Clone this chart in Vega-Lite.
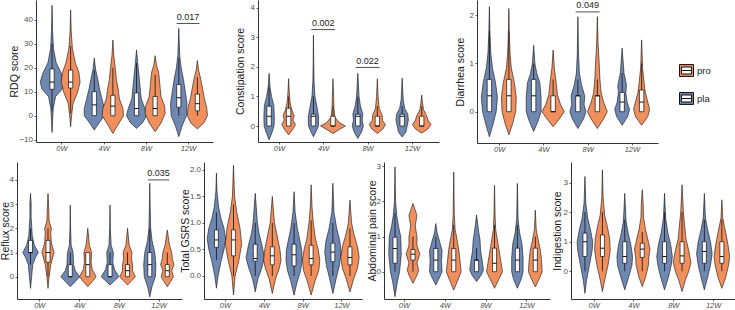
{
  "$schema": "https://vega.github.io/schema/vega-lite/v6.json",
  "width": 735,
  "height": 310,
  "padding": 0,
  "autosize": {"type": "none"},
  "background": "white",
  "config": {
    "view": {"stroke": null},
    "font": "Liberation Sans",
    "axis": {
      "grid": false,
      "domainColor": "#333333",
      "domainWidth": 1,
      "tickColor": "#333333",
      "tickSize": 2,
      "tickWidth": 0.8,
      "labelColor": "#4d4d4d",
      "labelFontSize": 8,
      "labelPadding": 1.5,
      "labelOverlap": false,
      "labelFlush": false,
      "titleFontSize": 10.5,
      "titleFontWeight": "normal",
      "titleColor": "#1a1a1a",
      "titleBaseline": "middle"
    },
    "axisX": {"labelFontStyle": "italic", "labelFontSize": 7.5, "labelPadding": 0.5}
  },
  "datasets": {
    "violin": [
      {"panel":"RDQ","week":"0W","group":"pla","score":-7,"density":0},
      {"panel":"RDQ","week":"0W","group":"pla","score":-2,"density":0.05},
      {"panel":"RDQ","week":"0W","group":"pla","score":3,"density":0.1},
      {"panel":"RDQ","week":"0W","group":"pla","score":8,"density":0.3},
      {"panel":"RDQ","week":"0W","group":"pla","score":11,"density":0.85},
      {"panel":"RDQ","week":"0W","group":"pla","score":14,"density":1.0},
      {"panel":"RDQ","week":"0W","group":"pla","score":18,"density":0.75},
      {"panel":"RDQ","week":"0W","group":"pla","score":22,"density":0.35},
      {"panel":"RDQ","week":"0W","group":"pla","score":28,"density":0.12},
      {"panel":"RDQ","week":"0W","group":"pla","score":35,"density":0.05},
      {"panel":"RDQ","week":"0W","group":"pla","score":46,"density":0},
      {"panel":"RDQ","week":"0W","group":"pro","score":-4.6,"density":0},
      {"panel":"RDQ","week":"0W","group":"pro","score":0,"density":0.08},
      {"panel":"RDQ","week":"0W","group":"pro","score":5,"density":0.2},
      {"panel":"RDQ","week":"0W","group":"pro","score":10,"density":0.6},
      {"panel":"RDQ","week":"0W","group":"pro","score":14,"density":0.8},
      {"panel":"RDQ","week":"0W","group":"pro","score":18,"density":0.7},
      {"panel":"RDQ","week":"0W","group":"pro","score":22,"density":0.4},
      {"panel":"RDQ","week":"0W","group":"pro","score":28,"density":0.15},
      {"panel":"RDQ","week":"0W","group":"pro","score":35,"density":0.05},
      {"panel":"RDQ","week":"0W","group":"pro","score":44,"density":0},
      {"panel":"RDQ","week":"4W","group":"pla","score":-6,"density":0},
      {"panel":"RDQ","week":"4W","group":"pla","score":-3,"density":0.4},
      {"panel":"RDQ","week":"4W","group":"pla","score":0,"density":0.85},
      {"panel":"RDQ","week":"4W","group":"pla","score":3,"density":0.85},
      {"panel":"RDQ","week":"4W","group":"pla","score":7,"density":0.65},
      {"panel":"RDQ","week":"4W","group":"pla","score":11,"density":0.45},
      {"panel":"RDQ","week":"4W","group":"pla","score":15,"density":0.3},
      {"panel":"RDQ","week":"4W","group":"pla","score":19,"density":0.12},
      {"panel":"RDQ","week":"4W","group":"pla","score":24,"density":0},
      {"panel":"RDQ","week":"4W","group":"pro","score":-7.4,"density":0},
      {"panel":"RDQ","week":"4W","group":"pro","score":-4,"density":0.4},
      {"panel":"RDQ","week":"4W","group":"pro","score":0,"density":0.9},
      {"panel":"RDQ","week":"4W","group":"pro","score":3,"density":0.85},
      {"panel":"RDQ","week":"4W","group":"pro","score":7,"density":0.55},
      {"panel":"RDQ","week":"4W","group":"pro","score":11,"density":0.45},
      {"panel":"RDQ","week":"4W","group":"pro","score":15,"density":0.3},
      {"panel":"RDQ","week":"4W","group":"pro","score":20,"density":0.2},
      {"panel":"RDQ","week":"4W","group":"pro","score":25,"density":0.08},
      {"panel":"RDQ","week":"4W","group":"pro","score":31.5,"density":0},
      {"panel":"RDQ","week":"8W","group":"pla","score":-5.3,"density":0},
      {"panel":"RDQ","week":"8W","group":"pla","score":-3,"density":0.5},
      {"panel":"RDQ","week":"8W","group":"pla","score":0,"density":0.85},
      {"panel":"RDQ","week":"8W","group":"pla","score":3,"density":0.7},
      {"panel":"RDQ","week":"8W","group":"pla","score":7,"density":0.4},
      {"panel":"RDQ","week":"8W","group":"pla","score":12,"density":0.3},
      {"panel":"RDQ","week":"8W","group":"pla","score":17,"density":0.2},
      {"panel":"RDQ","week":"8W","group":"pla","score":22,"density":0.1},
      {"panel":"RDQ","week":"8W","group":"pla","score":27.4,"density":0},
      {"panel":"RDQ","week":"8W","group":"pro","score":-6.7,"density":0},
      {"panel":"RDQ","week":"8W","group":"pro","score":-3,"density":0.5},
      {"panel":"RDQ","week":"8W","group":"pro","score":1,"density":0.85},
      {"panel":"RDQ","week":"8W","group":"pro","score":4,"density":0.8},
      {"panel":"RDQ","week":"8W","group":"pro","score":8,"density":0.5},
      {"panel":"RDQ","week":"8W","group":"pro","score":13,"density":0.4},
      {"panel":"RDQ","week":"8W","group":"pro","score":18,"density":0.3},
      {"panel":"RDQ","week":"8W","group":"pro","score":21,"density":0.12},
      {"panel":"RDQ","week":"8W","group":"pro","score":25,"density":0},
      {"panel":"RDQ","week":"12W","group":"pla","score":-8.75,"density":0},
      {"panel":"RDQ","week":"12W","group":"pla","score":-4,"density":0.3},
      {"panel":"RDQ","week":"12W","group":"pla","score":0,"density":0.65},
      {"panel":"RDQ","week":"12W","group":"pla","score":5,"density":0.7},
      {"panel":"RDQ","week":"12W","group":"pla","score":10,"density":0.55},
      {"panel":"RDQ","week":"12W","group":"pla","score":15,"density":0.4},
      {"panel":"RDQ","week":"12W","group":"pla","score":20,"density":0.2},
      {"panel":"RDQ","week":"12W","group":"pla","score":25,"density":0.08},
      {"panel":"RDQ","week":"12W","group":"pla","score":36.4,"density":0},
      {"panel":"RDQ","week":"12W","group":"pro","score":-5.5,"density":0},
      {"panel":"RDQ","week":"12W","group":"pro","score":-3,"density":0.55},
      {"panel":"RDQ","week":"12W","group":"pro","score":0,"density":0.85},
      {"panel":"RDQ","week":"12W","group":"pro","score":3,"density":0.8},
      {"panel":"RDQ","week":"12W","group":"pro","score":7,"density":0.6},
      {"panel":"RDQ","week":"12W","group":"pro","score":11,"density":0.45},
      {"panel":"RDQ","week":"12W","group":"pro","score":15,"density":0.3},
      {"panel":"RDQ","week":"12W","group":"pro","score":19,"density":0.1},
      {"panel":"RDQ","week":"12W","group":"pro","score":23,"density":0},

      {"panel":"Constipation","week":"0W","group":"pla","score":-0.47,"density":0},
      {"panel":"Constipation","week":"0W","group":"pla","score":-0.2,"density":0.25},
      {"panel":"Constipation","week":"0W","group":"pla","score":0,"density":0.4},
      {"panel":"Constipation","week":"0W","group":"pla","score":0.3,"density":0.42},
      {"panel":"Constipation","week":"0W","group":"pla","score":0.7,"density":0.38},
      {"panel":"Constipation","week":"0W","group":"pla","score":1.0,"density":0.2},
      {"panel":"Constipation","week":"0W","group":"pla","score":1.3,"density":0.08},
      {"panel":"Constipation","week":"0W","group":"pla","score":1.78,"density":0},
      {"panel":"Constipation","week":"0W","group":"pro","score":-0.3,"density":0},
      {"panel":"Constipation","week":"0W","group":"pro","score":-0.1,"density":0.35},
      {"panel":"Constipation","week":"0W","group":"pro","score":0.05,"density":0.55},
      {"panel":"Constipation","week":"0W","group":"pro","score":0.2,"density":0.35},
      {"panel":"Constipation","week":"0W","group":"pro","score":0.35,"density":0.45},
      {"panel":"Constipation","week":"0W","group":"pro","score":0.55,"density":0.25},
      {"panel":"Constipation","week":"0W","group":"pro","score":0.8,"density":0.12},
      {"panel":"Constipation","week":"0W","group":"pro","score":1.1,"density":0.06},
      {"panel":"Constipation","week":"0W","group":"pro","score":1.6,"density":0},
      {"panel":"Constipation","week":"4W","group":"pla","score":-0.36,"density":0},
      {"panel":"Constipation","week":"4W","group":"pla","score":-0.15,"density":0.25},
      {"panel":"Constipation","week":"4W","group":"pla","score":0,"density":0.4},
      {"panel":"Constipation","week":"4W","group":"pla","score":0.3,"density":0.42},
      {"panel":"Constipation","week":"4W","group":"pla","score":0.6,"density":0.3},
      {"panel":"Constipation","week":"4W","group":"pla","score":1.0,"density":0.12},
      {"panel":"Constipation","week":"4W","group":"pla","score":1.5,"density":0.05},
      {"panel":"Constipation","week":"4W","group":"pla","score":2.2,"density":0.02},
      {"panel":"Constipation","week":"4W","group":"pla","score":3.07,"density":0},
      {"panel":"Constipation","week":"4W","group":"pro","score":-0.25,"density":0},
      {"panel":"Constipation","week":"4W","group":"pro","score":-0.12,"density":0.5},
      {"panel":"Constipation","week":"4W","group":"pro","score":0,"density":1.0},
      {"panel":"Constipation","week":"4W","group":"pro","score":0.12,"density":0.5},
      {"panel":"Constipation","week":"4W","group":"pro","score":0.3,"density":0.15},
      {"panel":"Constipation","week":"4W","group":"pro","score":0.6,"density":0.08},
      {"panel":"Constipation","week":"4W","group":"pro","score":1.0,"density":0.05},
      {"panel":"Constipation","week":"4W","group":"pro","score":1.6,"density":0},
      {"panel":"Constipation","week":"8W","group":"pla","score":-0.42,"density":0},
      {"panel":"Constipation","week":"8W","group":"pla","score":-0.2,"density":0.3},
      {"panel":"Constipation","week":"8W","group":"pla","score":0,"density":0.45},
      {"panel":"Constipation","week":"8W","group":"pla","score":0.2,"density":0.35},
      {"panel":"Constipation","week":"8W","group":"pla","score":0.4,"density":0.4},
      {"panel":"Constipation","week":"8W","group":"pla","score":0.7,"density":0.2},
      {"panel":"Constipation","week":"8W","group":"pla","score":1.0,"density":0.1},
      {"panel":"Constipation","week":"8W","group":"pla","score":1.78,"density":0},
      {"panel":"Constipation","week":"8W","group":"pro","score":-0.25,"density":0},
      {"panel":"Constipation","week":"8W","group":"pro","score":-0.1,"density":0.45},
      {"panel":"Constipation","week":"8W","group":"pro","score":0.05,"density":0.65},
      {"panel":"Constipation","week":"8W","group":"pro","score":0.2,"density":0.4},
      {"panel":"Constipation","week":"8W","group":"pro","score":0.35,"density":0.4},
      {"panel":"Constipation","week":"8W","group":"pro","score":0.6,"density":0.15},
      {"panel":"Constipation","week":"8W","group":"pro","score":1.0,"density":0.06},
      {"panel":"Constipation","week":"8W","group":"pro","score":1.6,"density":0},
      {"panel":"Constipation","week":"12W","group":"pla","score":-0.37,"density":0},
      {"panel":"Constipation","week":"12W","group":"pla","score":-0.2,"density":0.3},
      {"panel":"Constipation","week":"12W","group":"pla","score":0,"density":0.4},
      {"panel":"Constipation","week":"12W","group":"pla","score":0.2,"density":0.5},
      {"panel":"Constipation","week":"12W","group":"pla","score":0.4,"density":0.45},
      {"panel":"Constipation","week":"12W","group":"pla","score":0.6,"density":0.2},
      {"panel":"Constipation","week":"12W","group":"pla","score":0.9,"density":0.08},
      {"panel":"Constipation","week":"12W","group":"pla","score":1.62,"density":0},
      {"panel":"Constipation","week":"12W","group":"pro","score":-0.24,"density":0},
      {"panel":"Constipation","week":"12W","group":"pro","score":-0.1,"density":0.5},
      {"panel":"Constipation","week":"12W","group":"pro","score":0.05,"density":0.75},
      {"panel":"Constipation","week":"12W","group":"pro","score":0.2,"density":0.5},
      {"panel":"Constipation","week":"12W","group":"pro","score":0.35,"density":0.4},
      {"panel":"Constipation","week":"12W","group":"pro","score":0.55,"density":0.15},
      {"panel":"Constipation","week":"12W","group":"pro","score":0.8,"density":0.06},
      {"panel":"Constipation","week":"12W","group":"pro","score":1.05,"density":0},

      {"panel":"Diarrhea","week":"0W","group":"pla","score":-0.52,"density":0},
      {"panel":"Diarrhea","week":"0W","group":"pla","score":-0.3,"density":0.25},
      {"panel":"Diarrhea","week":"0W","group":"pla","score":0,"density":0.55},
      {"panel":"Diarrhea","week":"0W","group":"pla","score":0.3,"density":0.65},
      {"panel":"Diarrhea","week":"0W","group":"pla","score":0.6,"density":0.5},
      {"panel":"Diarrhea","week":"0W","group":"pla","score":0.9,"density":0.25},
      {"panel":"Diarrhea","week":"0W","group":"pla","score":1.2,"density":0.12},
      {"panel":"Diarrhea","week":"0W","group":"pla","score":1.6,"density":0.05},
      {"panel":"Diarrhea","week":"0W","group":"pla","score":2.18,"density":0},
      {"panel":"Diarrhea","week":"0W","group":"pro","score":-0.48,"density":0},
      {"panel":"Diarrhea","week":"0W","group":"pro","score":-0.25,"density":0.3},
      {"panel":"Diarrhea","week":"0W","group":"pro","score":0,"density":0.55},
      {"panel":"Diarrhea","week":"0W","group":"pro","score":0.3,"density":0.6},
      {"panel":"Diarrhea","week":"0W","group":"pro","score":0.6,"density":0.45},
      {"panel":"Diarrhea","week":"0W","group":"pro","score":0.9,"density":0.2},
      {"panel":"Diarrhea","week":"0W","group":"pro","score":1.2,"density":0.1},
      {"panel":"Diarrhea","week":"0W","group":"pro","score":1.6,"density":0.04},
      {"panel":"Diarrhea","week":"0W","group":"pro","score":2.14,"density":0},
      {"panel":"Diarrhea","week":"4W","group":"pla","score":-0.41,"density":0},
      {"panel":"Diarrhea","week":"4W","group":"pla","score":-0.2,"density":0.35},
      {"panel":"Diarrhea","week":"4W","group":"pla","score":0,"density":0.6},
      {"panel":"Diarrhea","week":"4W","group":"pla","score":0.3,"density":0.6},
      {"panel":"Diarrhea","week":"4W","group":"pla","score":0.6,"density":0.5},
      {"panel":"Diarrhea","week":"4W","group":"pla","score":0.8,"density":0.25},
      {"panel":"Diarrhea","week":"4W","group":"pla","score":1.0,"density":0.1},
      {"panel":"Diarrhea","week":"4W","group":"pla","score":1.38,"density":0},
      {"panel":"Diarrhea","week":"4W","group":"pro","score":-0.31,"density":0},
      {"panel":"Diarrhea","week":"4W","group":"pro","score":-0.15,"density":0.5},
      {"panel":"Diarrhea","week":"4W","group":"pro","score":0,"density":0.9},
      {"panel":"Diarrhea","week":"4W","group":"pro","score":0.15,"density":0.6},
      {"panel":"Diarrhea","week":"4W","group":"pro","score":0.35,"density":0.35},
      {"panel":"Diarrhea","week":"4W","group":"pro","score":0.6,"density":0.25},
      {"panel":"Diarrhea","week":"4W","group":"pro","score":0.9,"density":0.1},
      {"panel":"Diarrhea","week":"4W","group":"pro","score":1.28,"density":0},
      {"panel":"Diarrhea","week":"8W","group":"pla","score":-0.35,"density":0},
      {"panel":"Diarrhea","week":"8W","group":"pla","score":-0.15,"density":0.45},
      {"panel":"Diarrhea","week":"8W","group":"pla","score":0,"density":0.65},
      {"panel":"Diarrhea","week":"8W","group":"pla","score":0.15,"density":0.5},
      {"panel":"Diarrhea","week":"8W","group":"pla","score":0.33,"density":0.55},
      {"panel":"Diarrhea","week":"8W","group":"pla","score":0.55,"density":0.3},
      {"panel":"Diarrhea","week":"8W","group":"pla","score":0.8,"density":0.12},
      {"panel":"Diarrhea","week":"8W","group":"pla","score":1.2,"density":0.05},
      {"panel":"Diarrhea","week":"8W","group":"pla","score":1.97,"density":0},
      {"panel":"Diarrhea","week":"8W","group":"pro","score":-0.35,"density":0},
      {"panel":"Diarrhea","week":"8W","group":"pro","score":-0.15,"density":0.5},
      {"panel":"Diarrhea","week":"8W","group":"pro","score":0,"density":0.8},
      {"panel":"Diarrhea","week":"8W","group":"pro","score":0.2,"density":0.5},
      {"panel":"Diarrhea","week":"8W","group":"pro","score":0.4,"density":0.3},
      {"panel":"Diarrhea","week":"8W","group":"pro","score":0.7,"density":0.2},
      {"panel":"Diarrhea","week":"8W","group":"pro","score":1.0,"density":0.15},
      {"panel":"Diarrhea","week":"8W","group":"pro","score":1.4,"density":0.06},
      {"panel":"Diarrhea","week":"8W","group":"pro","score":1.97,"density":0},
      {"panel":"Diarrhea","week":"12W","group":"pla","score":-0.28,"density":0},
      {"panel":"Diarrhea","week":"12W","group":"pla","score":-0.1,"density":0.45},
      {"panel":"Diarrhea","week":"12W","group":"pla","score":0.05,"density":0.6},
      {"panel":"Diarrhea","week":"12W","group":"pla","score":0.2,"density":0.4},
      {"panel":"Diarrhea","week":"12W","group":"pla","score":0.4,"density":0.3},
      {"panel":"Diarrhea","week":"12W","group":"pla","score":0.55,"density":0.35},
      {"panel":"Diarrhea","week":"12W","group":"pla","score":0.8,"density":0.15},
      {"panel":"Diarrhea","week":"12W","group":"pla","score":1.32,"density":0},
      {"panel":"Diarrhea","week":"12W","group":"pro","score":-0.28,"density":0},
      {"panel":"Diarrhea","week":"12W","group":"pro","score":-0.1,"density":0.5},
      {"panel":"Diarrhea","week":"12W","group":"pro","score":0.05,"density":0.65},
      {"panel":"Diarrhea","week":"12W","group":"pro","score":0.2,"density":0.5},
      {"panel":"Diarrhea","week":"12W","group":"pro","score":0.4,"density":0.3},
      {"panel":"Diarrhea","week":"12W","group":"pro","score":0.6,"density":0.2},
      {"panel":"Diarrhea","week":"12W","group":"pro","score":0.9,"density":0.08},
      {"panel":"Diarrhea","week":"12W","group":"pro","score":1.49,"density":0},

      {"panel":"Reflux","week":"0W","group":"pla","score":-0.48,"density":0},
      {"panel":"Reflux","week":"0W","group":"pla","score":0,"density":0.1},
      {"panel":"Reflux","week":"0W","group":"pla","score":0.5,"density":0.2},
      {"panel":"Reflux","week":"0W","group":"pla","score":0.8,"density":0.45},
      {"panel":"Reflux","week":"0W","group":"pla","score":1.0,"density":0.7},
      {"panel":"Reflux","week":"0W","group":"pla","score":1.3,"density":0.35},
      {"panel":"Reflux","week":"0W","group":"pla","score":1.7,"density":0.15},
      {"panel":"Reflux","week":"0W","group":"pla","score":2.0,"density":0.12},
      {"panel":"Reflux","week":"0W","group":"pla","score":2.5,"density":0.05},
      {"panel":"Reflux","week":"0W","group":"pla","score":3.0,"density":0.06},
      {"panel":"Reflux","week":"0W","group":"pla","score":3.44,"density":0},
      {"panel":"Reflux","week":"0W","group":"pro","score":-0.48,"density":0},
      {"panel":"Reflux","week":"0W","group":"pro","score":0,"density":0.1},
      {"panel":"Reflux","week":"0W","group":"pro","score":0.5,"density":0.25},
      {"panel":"Reflux","week":"0W","group":"pro","score":1.0,"density":0.55},
      {"panel":"Reflux","week":"0W","group":"pro","score":1.4,"density":0.3},
      {"panel":"Reflux","week":"0W","group":"pro","score":1.8,"density":0.25},
      {"panel":"Reflux","week":"0W","group":"pro","score":2.0,"density":0.3},
      {"panel":"Reflux","week":"0W","group":"pro","score":2.3,"density":0.1},
      {"panel":"Reflux","week":"0W","group":"pro","score":3.0,"density":0.05},
      {"panel":"Reflux","week":"0W","group":"pro","score":3.44,"density":0},
      {"panel":"Reflux","week":"4W","group":"pla","score":-0.41,"density":0},
      {"panel":"Reflux","week":"4W","group":"pla","score":-0.2,"density":0.45},
      {"panel":"Reflux","week":"4W","group":"pla","score":0,"density":0.85},
      {"panel":"Reflux","week":"4W","group":"pla","score":0.25,"density":0.45},
      {"panel":"Reflux","week":"4W","group":"pla","score":0.5,"density":0.3},
      {"panel":"Reflux","week":"4W","group":"pla","score":1.0,"density":0.25},
      {"panel":"Reflux","week":"4W","group":"pla","score":1.3,"density":0.08},
      {"panel":"Reflux","week":"4W","group":"pla","score":2.0,"density":0.03},
      {"panel":"Reflux","week":"4W","group":"pla","score":2.96,"density":0},
      {"panel":"Reflux","week":"4W","group":"pro","score":-0.41,"density":0},
      {"panel":"Reflux","week":"4W","group":"pro","score":-0.2,"density":0.4},
      {"panel":"Reflux","week":"4W","group":"pro","score":0,"density":0.75},
      {"panel":"Reflux","week":"4W","group":"pro","score":0.3,"density":0.4},
      {"panel":"Reflux","week":"4W","group":"pro","score":0.6,"density":0.3},
      {"panel":"Reflux","week":"4W","group":"pro","score":1.0,"density":0.35},
      {"panel":"Reflux","week":"4W","group":"pro","score":1.3,"density":0.15},
      {"panel":"Reflux","week":"4W","group":"pro","score":2.0,"density":0},
      {"panel":"Reflux","week":"8W","group":"pla","score":-0.34,"density":0},
      {"panel":"Reflux","week":"8W","group":"pla","score":-0.15,"density":0.45},
      {"panel":"Reflux","week":"8W","group":"pla","score":0,"density":0.8},
      {"panel":"Reflux","week":"8W","group":"pla","score":0.3,"density":0.4},
      {"panel":"Reflux","week":"8W","group":"pla","score":0.6,"density":0.25},
      {"panel":"Reflux","week":"8W","group":"pla","score":1.0,"density":0.3},
      {"panel":"Reflux","week":"8W","group":"pla","score":1.3,"density":0.1},
      {"panel":"Reflux","week":"8W","group":"pla","score":2.0,"density":0.03},
      {"panel":"Reflux","week":"8W","group":"pla","score":2.96,"density":0},
      {"panel":"Reflux","week":"8W","group":"pro","score":-0.34,"density":0},
      {"panel":"Reflux","week":"8W","group":"pro","score":-0.15,"density":0.4},
      {"panel":"Reflux","week":"8W","group":"pro","score":0,"density":0.7},
      {"panel":"Reflux","week":"8W","group":"pro","score":0.25,"density":0.45},
      {"panel":"Reflux","week":"8W","group":"pro","score":0.5,"density":0.45},
      {"panel":"Reflux","week":"8W","group":"pro","score":0.75,"density":0.35},
      {"panel":"Reflux","week":"8W","group":"pro","score":1.0,"density":0.4},
      {"panel":"Reflux","week":"8W","group":"pro","score":1.3,"density":0.15},
      {"panel":"Reflux","week":"8W","group":"pro","score":2.0,"density":0},
      {"panel":"Reflux","week":"12W","group":"pla","score":-0.83,"density":0},
      {"panel":"Reflux","week":"12W","group":"pla","score":-0.4,"density":0.2},
      {"panel":"Reflux","week":"12W","group":"pla","score":0,"density":0.5},
      {"panel":"Reflux","week":"12W","group":"pla","score":0.5,"density":0.55},
      {"panel":"Reflux","week":"12W","group":"pla","score":1.0,"density":0.45},
      {"panel":"Reflux","week":"12W","group":"pla","score":1.5,"density":0.2},
      {"panel":"Reflux","week":"12W","group":"pla","score":2.0,"density":0.08},
      {"panel":"Reflux","week":"12W","group":"pla","score":3.0,"density":0.03},
      {"panel":"Reflux","week":"12W","group":"pla","score":3.86,"density":0},
      {"panel":"Reflux","week":"12W","group":"pro","score":-0.41,"density":0},
      {"panel":"Reflux","week":"12W","group":"pro","score":-0.2,"density":0.3},
      {"panel":"Reflux","week":"12W","group":"pro","score":0,"density":0.55},
      {"panel":"Reflux","week":"12W","group":"pro","score":0.25,"density":0.4},
      {"panel":"Reflux","week":"12W","group":"pro","score":0.5,"density":0.6},
      {"panel":"Reflux","week":"12W","group":"pro","score":0.75,"density":0.45},
      {"panel":"Reflux","week":"12W","group":"pro","score":1.0,"density":0.4},
      {"panel":"Reflux","week":"12W","group":"pro","score":1.3,"density":0.2},
      {"panel":"Reflux","week":"12W","group":"pro","score":1.93,"density":0},

      {"panel":"GSRS","week":"0W","group":"pla","score":-0.23,"density":0},
      {"panel":"GSRS","week":"0W","group":"pla","score":0,"density":0.15},
      {"panel":"GSRS","week":"0W","group":"pla","score":0.3,"density":0.45},
      {"panel":"GSRS","week":"0W","group":"pla","score":0.5,"density":0.7},
      {"panel":"GSRS","week":"0W","group":"pla","score":0.7,"density":0.85},
      {"panel":"GSRS","week":"0W","group":"pla","score":0.9,"density":0.7},
      {"panel":"GSRS","week":"0W","group":"pla","score":1.1,"density":0.4},
      {"panel":"GSRS","week":"0W","group":"pla","score":1.3,"density":0.2},
      {"panel":"GSRS","week":"0W","group":"pla","score":1.6,"density":0.05},
      {"panel":"GSRS","week":"0W","group":"pla","score":1.94,"density":0},
      {"panel":"GSRS","week":"0W","group":"pro","score":-0.36,"density":0},
      {"panel":"GSRS","week":"0W","group":"pro","score":0,"density":0.15},
      {"panel":"GSRS","week":"0W","group":"pro","score":0.3,"density":0.5},
      {"panel":"GSRS","week":"0W","group":"pro","score":0.6,"density":0.75},
      {"panel":"GSRS","week":"0W","group":"pro","score":0.9,"density":0.6},
      {"panel":"GSRS","week":"0W","group":"pro","score":1.2,"density":0.3},
      {"panel":"GSRS","week":"0W","group":"pro","score":1.5,"density":0.1},
      {"panel":"GSRS","week":"0W","group":"pro","score":2.09,"density":0},
      {"panel":"GSRS","week":"4W","group":"pla","score":-0.3,"density":0},
      {"panel":"GSRS","week":"4W","group":"pla","score":-0.05,"density":0.25},
      {"panel":"GSRS","week":"4W","group":"pla","score":0.15,"density":0.6},
      {"panel":"GSRS","week":"4W","group":"pla","score":0.35,"density":0.85},
      {"panel":"GSRS","week":"4W","group":"pla","score":0.6,"density":0.6},
      {"panel":"GSRS","week":"4W","group":"pla","score":0.8,"density":0.35},
      {"panel":"GSRS","week":"4W","group":"pla","score":1.0,"density":0.2},
      {"panel":"GSRS","week":"4W","group":"pla","score":1.56,"density":0},
      {"panel":"GSRS","week":"4W","group":"pro","score":-0.33,"density":0},
      {"panel":"GSRS","week":"4W","group":"pro","score":-0.05,"density":0.3},
      {"panel":"GSRS","week":"4W","group":"pro","score":0.15,"density":0.65},
      {"panel":"GSRS","week":"4W","group":"pro","score":0.3,"density":0.8},
      {"panel":"GSRS","week":"4W","group":"pro","score":0.5,"density":0.7},
      {"panel":"GSRS","week":"4W","group":"pro","score":0.8,"density":0.4},
      {"panel":"GSRS","week":"4W","group":"pro","score":1.0,"density":0.2},
      {"panel":"GSRS","week":"4W","group":"pro","score":1.5,"density":0},
      {"panel":"GSRS","week":"8W","group":"pla","score":-0.36,"density":0},
      {"panel":"GSRS","week":"8W","group":"pla","score":-0.1,"density":0.3},
      {"panel":"GSRS","week":"8W","group":"pla","score":0.1,"density":0.6},
      {"panel":"GSRS","week":"8W","group":"pla","score":0.3,"density":0.75},
      {"panel":"GSRS","week":"8W","group":"pla","score":0.5,"density":0.7},
      {"panel":"GSRS","week":"8W","group":"pla","score":0.7,"density":0.5},
      {"panel":"GSRS","week":"8W","group":"pla","score":0.9,"density":0.3},
      {"panel":"GSRS","week":"8W","group":"pla","score":1.2,"density":0.1},
      {"panel":"GSRS","week":"8W","group":"pla","score":1.59,"density":0},
      {"panel":"GSRS","week":"8W","group":"pro","score":-0.36,"density":0},
      {"panel":"GSRS","week":"8W","group":"pro","score":-0.1,"density":0.35},
      {"panel":"GSRS","week":"8W","group":"pro","score":0.1,"density":0.7},
      {"panel":"GSRS","week":"8W","group":"pro","score":0.3,"density":0.8},
      {"panel":"GSRS","week":"8W","group":"pro","score":0.5,"density":0.65},
      {"panel":"GSRS","week":"8W","group":"pro","score":0.7,"density":0.4},
      {"panel":"GSRS","week":"8W","group":"pro","score":1.0,"density":0.2},
      {"panel":"GSRS","week":"8W","group":"pro","score":1.3,"density":0.08},
      {"panel":"GSRS","week":"8W","group":"pro","score":1.72,"density":0},
      {"panel":"GSRS","week":"12W","group":"pla","score":-0.33,"density":0},
      {"panel":"GSRS","week":"12W","group":"pla","score":-0.05,"density":0.3},
      {"panel":"GSRS","week":"12W","group":"pla","score":0.2,"density":0.6},
      {"panel":"GSRS","week":"12W","group":"pla","score":0.45,"density":0.75},
      {"panel":"GSRS","week":"12W","group":"pla","score":0.65,"density":0.65},
      {"panel":"GSRS","week":"12W","group":"pla","score":0.9,"density":0.35},
      {"panel":"GSRS","week":"12W","group":"pla","score":1.2,"density":0.1},
      {"panel":"GSRS","week":"12W","group":"pla","score":1.75,"density":0},
      {"panel":"GSRS","week":"12W","group":"pro","score":-0.3,"density":0},
      {"panel":"GSRS","week":"12W","group":"pro","score":-0.05,"density":0.35},
      {"panel":"GSRS","week":"12W","group":"pro","score":0.15,"density":0.7},
      {"panel":"GSRS","week":"12W","group":"pro","score":0.35,"density":0.85},
      {"panel":"GSRS","week":"12W","group":"pro","score":0.55,"density":0.7},
      {"panel":"GSRS","week":"12W","group":"pro","score":0.8,"density":0.35},
      {"panel":"GSRS","week":"12W","group":"pro","score":1.0,"density":0.15},
      {"panel":"GSRS","week":"12W","group":"pro","score":1.43,"density":0},

      {"panel":"Abdominal","week":"0W","group":"pla","score":-0.71,"density":0},
      {"panel":"Abdominal","week":"0W","group":"pla","score":-0.3,"density":0.2},
      {"panel":"Abdominal","week":"0W","group":"pla","score":0,"density":0.4},
      {"panel":"Abdominal","week":"0W","group":"pla","score":0.5,"density":0.55},
      {"panel":"Abdominal","week":"0W","group":"pla","score":1.0,"density":0.5},
      {"panel":"Abdominal","week":"0W","group":"pla","score":1.3,"density":0.3},
      {"panel":"Abdominal","week":"0W","group":"pla","score":1.6,"density":0.15},
      {"panel":"Abdominal","week":"0W","group":"pla","score":2.0,"density":0.05},
      {"panel":"Abdominal","week":"0W","group":"pla","score":2.98,"density":0},
      {"panel":"Abdominal","week":"0W","group":"pro","score":-0.33,"density":0},
      {"panel":"Abdominal","week":"0W","group":"pro","score":-0.1,"density":0.35},
      {"panel":"Abdominal","week":"0W","group":"pro","score":0.05,"density":0.5},
      {"panel":"Abdominal","week":"0W","group":"pro","score":0.25,"density":0.35},
      {"panel":"Abdominal","week":"0W","group":"pro","score":0.5,"density":0.6},
      {"panel":"Abdominal","week":"0W","group":"pro","score":0.75,"density":0.35},
      {"panel":"Abdominal","week":"0W","group":"pro","score":1.0,"density":0.35},
      {"panel":"Abdominal","week":"0W","group":"pro","score":1.3,"density":0.2},
      {"panel":"Abdominal","week":"0W","group":"pro","score":1.6,"density":0.35},
      {"panel":"Abdominal","week":"0W","group":"pro","score":1.8,"density":0.15},
      {"panel":"Abdominal","week":"0W","group":"pro","score":1.94,"density":0},
      {"panel":"Abdominal","week":"4W","group":"pla","score":-0.38,"density":0},
      {"panel":"Abdominal","week":"4W","group":"pla","score":-0.15,"density":0.35},
      {"panel":"Abdominal","week":"4W","group":"pla","score":0,"density":0.55},
      {"panel":"Abdominal","week":"4W","group":"pla","score":0.3,"density":0.5},
      {"panel":"Abdominal","week":"4W","group":"pla","score":0.6,"density":0.55},
      {"panel":"Abdominal","week":"4W","group":"pla","score":0.9,"density":0.3},
      {"panel":"Abdominal","week":"4W","group":"pla","score":1.1,"density":0.12},
      {"panel":"Abdominal","week":"4W","group":"pla","score":1.37,"density":0},
      {"panel":"Abdominal","week":"4W","group":"pro","score":-0.52,"density":0},
      {"panel":"Abdominal","week":"4W","group":"pro","score":-0.25,"density":0.35},
      {"panel":"Abdominal","week":"4W","group":"pro","score":0,"density":0.65},
      {"panel":"Abdominal","week":"4W","group":"pro","score":0.3,"density":0.55},
      {"panel":"Abdominal","week":"4W","group":"pro","score":0.6,"density":0.45},
      {"panel":"Abdominal","week":"4W","group":"pro","score":0.9,"density":0.3},
      {"panel":"Abdominal","week":"4W","group":"pro","score":1.2,"density":0.12},
      {"panel":"Abdominal","week":"4W","group":"pro","score":1.6,"density":0.05},
      {"panel":"Abdominal","week":"4W","group":"pro","score":2.84,"density":0},
      {"panel":"Abdominal","week":"8W","group":"pla","score":-0.28,"density":0},
      {"panel":"Abdominal","week":"8W","group":"pla","score":-0.1,"density":0.4},
      {"panel":"Abdominal","week":"8W","group":"pla","score":0.05,"density":0.6},
      {"panel":"Abdominal","week":"8W","group":"pla","score":0.3,"density":0.5},
      {"panel":"Abdominal","week":"8W","group":"pla","score":0.6,"density":0.35},
      {"panel":"Abdominal","week":"8W","group":"pla","score":0.9,"density":0.3},
      {"panel":"Abdominal","week":"8W","group":"pla","score":1.1,"density":0.2},
      {"panel":"Abdominal","week":"8W","group":"pla","score":1.61,"density":0},
      {"panel":"Abdominal","week":"8W","group":"pro","score":-0.47,"density":0},
      {"panel":"Abdominal","week":"8W","group":"pro","score":-0.2,"density":0.4},
      {"panel":"Abdominal","week":"8W","group":"pro","score":0,"density":0.7},
      {"panel":"Abdominal","week":"8W","group":"pro","score":0.3,"density":0.55},
      {"panel":"Abdominal","week":"8W","group":"pro","score":0.6,"density":0.4},
      {"panel":"Abdominal","week":"8W","group":"pro","score":0.9,"density":0.25},
      {"panel":"Abdominal","week":"8W","group":"pro","score":1.2,"density":0.1},
      {"panel":"Abdominal","week":"8W","group":"pro","score":1.6,"density":0.05},
      {"panel":"Abdominal","week":"8W","group":"pro","score":2.46,"density":0},
      {"panel":"Abdominal","week":"12W","group":"pla","score":-0.47,"density":0},
      {"panel":"Abdominal","week":"12W","group":"pla","score":-0.2,"density":0.35},
      {"panel":"Abdominal","week":"12W","group":"pla","score":0,"density":0.5},
      {"panel":"Abdominal","week":"12W","group":"pla","score":0.4,"density":0.5},
      {"panel":"Abdominal","week":"12W","group":"pla","score":0.8,"density":0.4},
      {"panel":"Abdominal","week":"12W","group":"pla","score":1.1,"density":0.2},
      {"panel":"Abdominal","week":"12W","group":"pla","score":1.5,"density":0.06},
      {"panel":"Abdominal","week":"12W","group":"pla","score":2.51,"density":0},
      {"panel":"Abdominal","week":"12W","group":"pro","score":-0.43,"density":0},
      {"panel":"Abdominal","week":"12W","group":"pro","score":-0.2,"density":0.35},
      {"panel":"Abdominal","week":"12W","group":"pro","score":0,"density":0.6},
      {"panel":"Abdominal","week":"12W","group":"pro","score":0.3,"density":0.55},
      {"panel":"Abdominal","week":"12W","group":"pro","score":0.6,"density":0.45},
      {"panel":"Abdominal","week":"12W","group":"pro","score":0.9,"density":0.25},
      {"panel":"Abdominal","week":"12W","group":"pro","score":1.2,"density":0.08},
      {"panel":"Abdominal","week":"12W","group":"pro","score":1.75,"density":0},

      {"panel":"Indigestion","week":"0W","group":"pla","score":-0.75,"density":0},
      {"panel":"Indigestion","week":"0W","group":"pla","score":-0.3,"density":0.15},
      {"panel":"Indigestion","week":"0W","group":"pla","score":0.2,"density":0.4},
      {"panel":"Indigestion","week":"0W","group":"pla","score":0.7,"density":0.65},
      {"panel":"Indigestion","week":"0W","group":"pla","score":1.0,"density":0.7},
      {"panel":"Indigestion","week":"0W","group":"pla","score":1.4,"density":0.5},
      {"panel":"Indigestion","week":"0W","group":"pla","score":1.8,"density":0.25},
      {"panel":"Indigestion","week":"0W","group":"pla","score":2.3,"density":0.08},
      {"panel":"Indigestion","week":"0W","group":"pla","score":3.21,"density":0},
      {"panel":"Indigestion","week":"0W","group":"pro","score":-0.69,"density":0},
      {"panel":"Indigestion","week":"0W","group":"pro","score":-0.3,"density":0.2},
      {"panel":"Indigestion","week":"0W","group":"pro","score":0.2,"density":0.5},
      {"panel":"Indigestion","week":"0W","group":"pro","score":0.7,"density":0.7},
      {"panel":"Indigestion","week":"0W","group":"pro","score":1.1,"density":0.65},
      {"panel":"Indigestion","week":"0W","group":"pro","score":1.5,"density":0.45},
      {"panel":"Indigestion","week":"0W","group":"pro","score":1.9,"density":0.2},
      {"panel":"Indigestion","week":"0W","group":"pro","score":2.5,"density":0.06},
      {"panel":"Indigestion","week":"0W","group":"pro","score":3.43,"density":0},
      {"panel":"Indigestion","week":"4W","group":"pla","score":-0.63,"density":0},
      {"panel":"Indigestion","week":"4W","group":"pla","score":-0.2,"density":0.35},
      {"panel":"Indigestion","week":"4W","group":"pla","score":0.2,"density":0.65},
      {"panel":"Indigestion","week":"4W","group":"pla","score":0.5,"density":0.7},
      {"panel":"Indigestion","week":"4W","group":"pla","score":0.9,"density":0.55},
      {"panel":"Indigestion","week":"4W","group":"pla","score":1.3,"density":0.3},
      {"panel":"Indigestion","week":"4W","group":"pla","score":1.7,"density":0.12},
      {"panel":"Indigestion","week":"4W","group":"pla","score":2.64,"density":0},
      {"panel":"Indigestion","week":"4W","group":"pro","score":-0.52,"density":0},
      {"panel":"Indigestion","week":"4W","group":"pro","score":-0.2,"density":0.3},
      {"panel":"Indigestion","week":"4W","group":"pro","score":0.2,"density":0.55},
      {"panel":"Indigestion","week":"4W","group":"pro","score":0.5,"density":0.6},
      {"panel":"Indigestion","week":"4W","group":"pro","score":0.75,"density":0.7},
      {"panel":"Indigestion","week":"4W","group":"pro","score":1.0,"density":0.55},
      {"panel":"Indigestion","week":"4W","group":"pro","score":1.4,"density":0.3},
      {"panel":"Indigestion","week":"4W","group":"pro","score":1.8,"density":0.12},
      {"panel":"Indigestion","week":"4W","group":"pro","score":2.3,"density":0.08},
      {"panel":"Indigestion","week":"4W","group":"pro","score":2.76,"density":0},
      {"panel":"Indigestion","week":"8W","group":"pla","score":-0.63,"density":0},
      {"panel":"Indigestion","week":"8W","group":"pla","score":-0.2,"density":0.35},
      {"panel":"Indigestion","week":"8W","group":"pla","score":0.2,"density":0.6},
      {"panel":"Indigestion","week":"8W","group":"pla","score":0.5,"density":0.7},
      {"panel":"Indigestion","week":"8W","group":"pla","score":0.9,"density":0.55},
      {"panel":"Indigestion","week":"8W","group":"pla","score":1.3,"density":0.3},
      {"panel":"Indigestion","week":"8W","group":"pla","score":1.8,"density":0.1},
      {"panel":"Indigestion","week":"8W","group":"pla","score":2.64,"density":0},
      {"panel":"Indigestion","week":"8W","group":"pro","score":-0.69,"density":0},
      {"panel":"Indigestion","week":"8W","group":"pro","score":-0.3,"density":0.3},
      {"panel":"Indigestion","week":"8W","group":"pro","score":0,"density":0.6},
      {"panel":"Indigestion","week":"8W","group":"pro","score":0.3,"density":0.8},
      {"panel":"Indigestion","week":"8W","group":"pro","score":0.7,"density":0.6},
      {"panel":"Indigestion","week":"8W","group":"pro","score":1.1,"density":0.35},
      {"panel":"Indigestion","week":"8W","group":"pro","score":1.5,"density":0.25},
      {"panel":"Indigestion","week":"8W","group":"pro","score":2.0,"density":0.12},
      {"panel":"Indigestion","week":"8W","group":"pro","score":2.93,"density":0},
      {"panel":"Indigestion","week":"12W","group":"pla","score":-0.63,"density":0},
      {"panel":"Indigestion","week":"12W","group":"pla","score":-0.2,"density":0.3},
      {"panel":"Indigestion","week":"12W","group":"pla","score":0.2,"density":0.55},
      {"panel":"Indigestion","week":"12W","group":"pla","score":0.6,"density":0.7},
      {"panel":"Indigestion","week":"12W","group":"pla","score":1.0,"density":0.55},
      {"panel":"Indigestion","week":"12W","group":"pla","score":1.4,"density":0.3},
      {"panel":"Indigestion","week":"12W","group":"pla","score":1.8,"density":0.1},
      {"panel":"Indigestion","week":"12W","group":"pla","score":2.64,"density":0},
      {"panel":"Indigestion","week":"12W","group":"pro","score":-0.58,"density":0},
      {"panel":"Indigestion","week":"12W","group":"pro","score":-0.2,"density":0.35},
      {"panel":"Indigestion","week":"12W","group":"pro","score":0.2,"density":0.6},
      {"panel":"Indigestion","week":"12W","group":"pro","score":0.5,"density":0.7},
      {"panel":"Indigestion","week":"12W","group":"pro","score":0.9,"density":0.55},
      {"panel":"Indigestion","week":"12W","group":"pro","score":1.3,"density":0.35},
      {"panel":"Indigestion","week":"12W","group":"pro","score":1.8,"density":0.08},
      {"panel":"Indigestion","week":"12W","group":"pro","score":2.42,"density":0}
    ],
    "box": [
      {"panel":"RDQ","week":"0W","group":"pla","lo":2,"q1":11,"median":14,"q3":19.5,"hi":30},
      {"panel":"RDQ","week":"0W","group":"pro","lo":1,"q1":11.5,"median":14,"q3":19,"hi":29},
      {"panel":"RDQ","week":"4W","group":"pla","lo":0,"q1":0,"median":4.5,"q3":10,"hi":19},
      {"panel":"RDQ","week":"4W","group":"pro","lo":0,"q1":0,"median":4,"q3":8.5,"hi":20},
      {"panel":"RDQ","week":"8W","group":"pla","lo":0,"q1":0,"median":3,"q3":9.5,"hi":22},
      {"panel":"RDQ","week":"8W","group":"pro","lo":0,"q1":0,"median":3,"q3":8,"hi":17},
      {"panel":"RDQ","week":"12W","group":"pla","lo":0,"q1":3.5,"median":7.5,"q3":13,"hi":24},
      {"panel":"RDQ","week":"12W","group":"pro","lo":0,"q1":2,"median":5,"q3":9,"hi":16},
      {"panel":"Constipation","week":"0W","group":"pla","lo":0,"q1":0,"median":0.33,"q3":0.67,"hi":1.33},
      {"panel":"Constipation","week":"0W","group":"pro","lo":0,"q1":0,"median":0.33,"q3":0.6,"hi":1.0},
      {"panel":"Constipation","week":"4W","group":"pla","lo":0,"q1":0,"median":0.33,"q3":0.4,"hi":1.0},
      {"panel":"Constipation","week":"4W","group":"pro","lo":0,"q1":0,"median":0,"q3":0.33,"hi":0.67},
      {"panel":"Constipation","week":"8W","group":"pla","lo":0,"q1":0,"median":0.33,"q3":0.4,"hi":1.0},
      {"panel":"Constipation","week":"8W","group":"pro","lo":0,"q1":0,"median":0,"q3":0.33,"hi":0.67},
      {"panel":"Constipation","week":"12W","group":"pla","lo":0,"q1":0,"median":0.33,"q3":0.4,"hi":0.67},
      {"panel":"Constipation","week":"12W","group":"pro","lo":0,"q1":0,"median":0,"q3":0.33,"hi":0.67},
      {"panel":"Diarrhea","week":"0W","group":"pla","lo":0,"q1":0,"median":0.33,"q3":0.67,"hi":1.67},
      {"panel":"Diarrhea","week":"0W","group":"pro","lo":0,"q1":0,"median":0.33,"q3":0.67,"hi":1.67},
      {"panel":"Diarrhea","week":"4W","group":"pla","lo":0,"q1":0,"median":0.33,"q3":0.67,"hi":1.0},
      {"panel":"Diarrhea","week":"4W","group":"pro","lo":0,"q1":0,"median":0,"q3":0.33,"hi":0.67},
      {"panel":"Diarrhea","week":"8W","group":"pla","lo":0,"q1":0,"median":0.33,"q3":0.33,"hi":0.67},
      {"panel":"Diarrhea","week":"8W","group":"pro","lo":0,"q1":0,"median":0.33,"q3":0.33,"hi":0.67},
      {"panel":"Diarrhea","week":"12W","group":"pla","lo":0,"q1":0,"median":0.2,"q3":0.4,"hi":0.8},
      {"panel":"Diarrhea","week":"12W","group":"pro","lo":0,"q1":0,"median":0.2,"q3":0.45,"hi":1.0},
      {"panel":"Reflux","week":"0W","group":"pla","lo":0.5,"q1":1.0,"median":1.0,"q3":1.5,"hi":2.0},
      {"panel":"Reflux","week":"0W","group":"pro","lo":0,"q1":0.6,"median":1.0,"q3":1.5,"hi":2.0},
      {"panel":"Reflux","week":"4W","group":"pla","lo":0,"q1":0,"median":0,"q3":0.5,"hi":1.0},
      {"panel":"Reflux","week":"4W","group":"pro","lo":0,"q1":0,"median":0.5,"q3":1.0,"hi":1.0},
      {"panel":"Reflux","week":"8W","group":"pla","lo":0,"q1":0,"median":0,"q3":0.5,"hi":1.0},
      {"panel":"Reflux","week":"8W","group":"pro","lo":0,"q1":0,"median":0.25,"q3":0.5,"hi":1.0},
      {"panel":"Reflux","week":"12W","group":"pla","lo":0,"q1":0,"median":0.5,"q3":1.0,"hi":2.0},
      {"panel":"Reflux","week":"12W","group":"pro","lo":0,"q1":0,"median":0.25,"q3":0.5,"hi":1.0},
      {"panel":"GSRS","week":"0W","group":"pla","lo":0.3,"q1":0.54,"median":0.68,"q3":0.87,"hi":1.2},
      {"panel":"GSRS","week":"0W","group":"pro","lo":0,"q1":0.38,"median":0.68,"q3":0.87,"hi":1.35},
      {"panel":"GSRS","week":"4W","group":"pla","lo":0,"q1":0.28,"median":0.33,"q3":0.6,"hi":1.0},
      {"panel":"GSRS","week":"4W","group":"pro","lo":0,"q1":0.21,"median":0.38,"q3":0.55,"hi":1.0},
      {"panel":"GSRS","week":"8W","group":"pla","lo":0,"q1":0.19,"median":0.4,"q3":0.6,"hi":1.0},
      {"panel":"GSRS","week":"8W","group":"pro","lo":0,"q1":0.21,"median":0.33,"q3":0.58,"hi":1.05},
      {"panel":"GSRS","week":"12W","group":"pla","lo":0,"q1":0.27,"median":0.45,"q3":0.62,"hi":1.0},
      {"panel":"GSRS","week":"12W","group":"pro","lo":0,"q1":0.21,"median":0.35,"q3":0.55,"hi":0.9},
      {"panel":"Abdominal","week":"0W","group":"pla","lo":0,"q1":0.24,"median":0.66,"q3":0.98,"hi":1.67},
      {"panel":"Abdominal","week":"0W","group":"pro","lo":0,"q1":0.33,"median":0.5,"q3":0.63,"hi":1.0},
      {"panel":"Abdominal","week":"4W","group":"pla","lo":0,"q1":0,"median":0.33,"q3":0.66,"hi":1.0},
      {"panel":"Abdominal","week":"4W","group":"pro","lo":0,"q1":0,"median":0.33,"q3":0.66,"hi":1.33},
      {"panel":"Abdominal","week":"8W","group":"pla","lo":0,"q1":0,"median":0.33,"q3":0.33,"hi":0.67},
      {"panel":"Abdominal","week":"8W","group":"pro","lo":0,"q1":0,"median":0.24,"q3":0.67,"hi":1.33},
      {"panel":"Abdominal","week":"12W","group":"pla","lo":0,"q1":0,"median":0.33,"q3":0.67,"hi":1.33},
      {"panel":"Abdominal","week":"12W","group":"pro","lo":0,"q1":0,"median":0.33,"q3":0.67,"hi":1.0},
      {"panel":"Indigestion","week":"0W","group":"pla","lo":0,"q1":0.5,"median":1.0,"q3":1.29,"hi":2.0},
      {"panel":"Indigestion","week":"0W","group":"pro","lo":0,"q1":0.5,"median":0.78,"q3":1.23,"hi":2.0},
      {"panel":"Indigestion","week":"4W","group":"pla","lo":0,"q1":0.27,"median":0.5,"q3":1.0,"hi":1.75},
      {"panel":"Indigestion","week":"4W","group":"pro","lo":0,"q1":0.47,"median":0.75,"q3":0.95,"hi":1.33},
      {"panel":"Indigestion","week":"8W","group":"pla","lo":0,"q1":0.27,"median":0.5,"q3":1.0,"hi":2.0},
      {"panel":"Indigestion","week":"8W","group":"pro","lo":0,"q1":0.27,"median":0.52,"q3":1.0,"hi":2.0},
      {"panel":"Indigestion","week":"12W","group":"pla","lo":0,"q1":0.27,"median":0.67,"q3":1.0,"hi":1.75},
      {"panel":"Indigestion","week":"12W","group":"pro","lo":0,"q1":0.27,"median":0.5,"q3":1.0,"hi":1.75}
    ],
    "pvalue": [
      {"panel":"RDQ","week":"12W","label":"0.017","level":38.4},
      {"panel":"Constipation","week":"4W","label":"0.002","level":3.26},
      {"panel":"Constipation","week":"8W","label":"0.022","level":1.98},
      {"panel":"Diarrhea","week":"8W","label":"0.049","level":2.07},
      {"panel":"Reflux","week":"12W","label":"0.035","level":4.0}
    ]
  },
  "resolve": {"scale": {"x": "independent", "y": "independent"}},
  "layer": [
    {
      "layer": [
        {
          "data": {"name": "violin"},
          "transform": [
            {"filter": "datum.panel === 'RDQ'"},
            {"calculate": "indexof(['0W','4W','8W','12W'], datum.week) + (datum.group === 'pla' ? -0.22 : 0.22)", "as": "center"},
            {"calculate": "datum.center - 0.28 * datum.density", "as": "left"},
            {"calculate": "datum.center + 0.28 * datum.density", "as": "right"}
          ],
          "mark": {"type": "area", "orient": "horizontal", "stroke": "#111111", "strokeWidth": 0.6, "opacity": 1},
          "encoding": {
            "y": {"field": "score", "type": "quantitative", "scale": {"domain": [-10.96, 48.2], "range": [142, 0], "nice": false, "zero": false}, "axis": {"orient": "left", "offset": -36, "values": [-10, 0, 10, 20, 30, 40], "format": "d", "title": "RDQ score", "titleX": -22}},
            "x": {"field": "left", "type": "quantitative", "stack": null, "scale": {"domain": [-0.6, 3.59], "range": [36, 213], "nice": false, "zero": false}, "axis": {"orient": "bottom", "offset": -168, "values": [0, 1, 2, 3], "labelExpr": "['0W','4W','8W','12W'][datum.value]", "title": null}},
            "x2": {"field": "right"},
            "color": {"field": "group", "type": "nominal", "scale": {"domain": ["pro", "pla"], "range": ["#f08e5c", "#6f88b1"]},
              "legend": {"orient": "none", "legendX": 679, "legendY": 63, "title": null, "padding": 0, "symbolType": "M-1,-0.85H1V0.85H-1Z M-0.72,-0.5V0.5H0.72V-0.5Z M-0.72,0H0.72", "symbolSize": 196, "symbolStrokeColor": "#3a3a3a", "symbolStrokeWidth": 1, "symbolOpacity": 1, "labelFontSize": 9.5, "labelColor": "#1a1a1a", "labelOffset": 3, "rowPadding": 11}},
            "detail": {"field": "week"}
          }
        },
        {
          "data": {"name": "box"},
          "transform": [
            {"filter": "datum.panel === 'RDQ'"},
            {"calculate": "indexof(['0W','4W','8W','12W'], datum.week) + (datum.group === 'pla' ? -0.22 : 0.22)", "as": "center"},
            {"calculate": "datum.center - 0.05", "as": "boxLeft"},
            {"calculate": "datum.center + 0.05", "as": "boxRight"}
          ],
          "layer": [
            {"mark": {"type": "rule", "color": "#111111", "strokeWidth": 0.8},
             "encoding": {"x": {"field": "center", "type": "quantitative"}, "y": {"field": "lo", "type": "quantitative"}, "y2": {"field": "hi"}}},
            {"mark": {"type": "rect", "fill": "white", "stroke": "#111111", "strokeWidth": 0.7},
             "encoding": {"x": {"field": "boxLeft", "type": "quantitative"}, "x2": {"field": "boxRight"}, "y": {"field": "q1", "type": "quantitative"}, "y2": {"field": "q3"}}},
            {"mark": {"type": "rule", "color": "#111111", "strokeWidth": 1},
             "encoding": {"x": {"field": "boxLeft", "type": "quantitative"}, "x2": {"field": "boxRight"}, "y": {"field": "median", "type": "quantitative"}}}
          ]
        },
        {
          "data": {"name": "pvalue"},
          "transform": [
            {"filter": "datum.panel === 'RDQ'"},
            {"calculate": "indexof(['0W','4W','8W','12W'], datum.week)", "as": "mid"},
            {"calculate": "datum.mid - 0.27", "as": "barLeft"},
            {"calculate": "datum.mid + 0.27", "as": "barRight"}
          ],
          "layer": [
            {"mark": {"type": "rule", "color": "#222222", "strokeWidth": 0.8},
             "encoding": {"x": {"field": "barLeft", "type": "quantitative"}, "x2": {"field": "barRight"}, "y": {"field": "level", "type": "quantitative"}}},
            {"mark": {"type": "text", "baseline": "bottom", "dy": -1.5, "fontSize": 9, "color": "#222222"},
             "encoding": {"x": {"field": "mid", "type": "quantitative"}, "y": {"field": "level", "type": "quantitative"}, "text": {"field": "label"}}}
          ]
        }
      ]
    },
    {
      "layer": [
        {
          "data": {"name": "violin"},
          "transform": [
            {"filter": "datum.panel === 'Constipation'"},
            {"calculate": "indexof(['0W','4W','8W','12W'], datum.week) + (datum.group === 'pla' ? -0.22 : 0.22)", "as": "center"},
            {"calculate": "datum.center - 0.28 * datum.density", "as": "left"},
            {"calculate": "datum.center + 0.28 * datum.density", "as": "right"}
          ],
          "mark": {"type": "area", "orient": "horizontal", "stroke": "#111111", "strokeWidth": 0.6, "opacity": 1},
          "encoding": {
            "y": {"field": "score", "type": "quantitative", "scale": {"domain": [-0.54, 4.26], "range": [142, 0], "nice": false, "zero": false}, "axis": {"orient": "left", "offset": -258, "values": [0, 1, 2, 3, 4], "format": "d", "title": "Constipation score", "titleX": -18}},
            "x": {"field": "left", "type": "quantitative", "stack": null, "scale": {"domain": [-0.47, 3.61], "range": [258, 439], "nice": false, "zero": false}, "axis": {"orient": "bottom", "offset": -168, "values": [0, 1, 2, 3], "labelExpr": "['0W','4W','8W','12W'][datum.value]", "title": null}},
            "x2": {"field": "right"},
            "color": {"field": "group", "type": "nominal"},
            "detail": {"field": "week"}
          }
        },
        {
          "data": {"name": "box"},
          "transform": [
            {"filter": "datum.panel === 'Constipation'"},
            {"calculate": "indexof(['0W','4W','8W','12W'], datum.week) + (datum.group === 'pla' ? -0.22 : 0.22)", "as": "center"},
            {"calculate": "datum.center - 0.05", "as": "boxLeft"},
            {"calculate": "datum.center + 0.05", "as": "boxRight"}
          ],
          "layer": [
            {"mark": {"type": "rule", "color": "#111111", "strokeWidth": 0.8},
             "encoding": {"x": {"field": "center", "type": "quantitative"}, "y": {"field": "lo", "type": "quantitative"}, "y2": {"field": "hi"}}},
            {"mark": {"type": "rect", "fill": "white", "stroke": "#111111", "strokeWidth": 0.7},
             "encoding": {"x": {"field": "boxLeft", "type": "quantitative"}, "x2": {"field": "boxRight"}, "y": {"field": "q1", "type": "quantitative"}, "y2": {"field": "q3"}}},
            {"mark": {"type": "rule", "color": "#111111", "strokeWidth": 1},
             "encoding": {"x": {"field": "boxLeft", "type": "quantitative"}, "x2": {"field": "boxRight"}, "y": {"field": "median", "type": "quantitative"}}}
          ]
        },
        {
          "data": {"name": "pvalue"},
          "transform": [
            {"filter": "datum.panel === 'Constipation'"},
            {"calculate": "indexof(['0W','4W','8W','12W'], datum.week)", "as": "mid"},
            {"calculate": "datum.mid - 0.27", "as": "barLeft"},
            {"calculate": "datum.mid + 0.27", "as": "barRight"}
          ],
          "layer": [
            {"mark": {"type": "rule", "color": "#222222", "strokeWidth": 0.8},
             "encoding": {"x": {"field": "barLeft", "type": "quantitative"}, "x2": {"field": "barRight"}, "y": {"field": "level", "type": "quantitative"}}},
            {"mark": {"type": "text", "baseline": "bottom", "dy": -1.5, "fontSize": 9, "color": "#222222"},
             "encoding": {"x": {"field": "mid", "type": "quantitative"}, "y": {"field": "level", "type": "quantitative"}, "text": {"field": "label"}}}
          ]
        }
      ]
    },
    {
      "layer": [
        {
          "data": {"name": "violin"},
          "transform": [
            {"filter": "datum.panel === 'Diarrhea'"},
            {"calculate": "indexof(['0W','4W','8W','12W'], datum.week) + (datum.group === 'pla' ? -0.22 : 0.22)", "as": "center"},
            {"calculate": "datum.center - 0.28 * datum.density", "as": "left"},
            {"calculate": "datum.center + 0.28 * datum.density", "as": "right"}
          ],
          "mark": {"type": "area", "orient": "horizontal", "stroke": "#111111", "strokeWidth": 0.6, "opacity": 1},
          "encoding": {
            "y": {"field": "score", "type": "quantitative", "scale": {"domain": [-0.649, 2.317], "range": [143, 0], "nice": false, "zero": false}, "axis": {"orient": "left", "offset": -477, "values": [0, 1, 2], "format": "d", "title": "Diarrhea score", "titleX": -17}},
            "x": {"field": "left", "type": "quantitative", "stack": null, "scale": {"domain": [-0.5, 3.59], "range": [477, 658], "nice": false, "zero": false}, "axis": {"orient": "bottom", "offset": -167, "values": [0, 1, 2, 3], "labelExpr": "['0W','4W','8W','12W'][datum.value]", "title": null}},
            "x2": {"field": "right"},
            "color": {"field": "group", "type": "nominal"},
            "detail": {"field": "week"}
          }
        },
        {
          "data": {"name": "box"},
          "transform": [
            {"filter": "datum.panel === 'Diarrhea'"},
            {"calculate": "indexof(['0W','4W','8W','12W'], datum.week) + (datum.group === 'pla' ? -0.22 : 0.22)", "as": "center"},
            {"calculate": "datum.center - 0.05", "as": "boxLeft"},
            {"calculate": "datum.center + 0.05", "as": "boxRight"}
          ],
          "layer": [
            {"mark": {"type": "rule", "color": "#111111", "strokeWidth": 0.8},
             "encoding": {"x": {"field": "center", "type": "quantitative"}, "y": {"field": "lo", "type": "quantitative"}, "y2": {"field": "hi"}}},
            {"mark": {"type": "rect", "fill": "white", "stroke": "#111111", "strokeWidth": 0.7},
             "encoding": {"x": {"field": "boxLeft", "type": "quantitative"}, "x2": {"field": "boxRight"}, "y": {"field": "q1", "type": "quantitative"}, "y2": {"field": "q3"}}},
            {"mark": {"type": "rule", "color": "#111111", "strokeWidth": 1},
             "encoding": {"x": {"field": "boxLeft", "type": "quantitative"}, "x2": {"field": "boxRight"}, "y": {"field": "median", "type": "quantitative"}}}
          ]
        },
        {
          "data": {"name": "pvalue"},
          "transform": [
            {"filter": "datum.panel === 'Diarrhea'"},
            {"calculate": "indexof(['0W','4W','8W','12W'], datum.week)", "as": "mid"},
            {"calculate": "datum.mid - 0.27", "as": "barLeft"},
            {"calculate": "datum.mid + 0.27", "as": "barRight"}
          ],
          "layer": [
            {"mark": {"type": "rule", "color": "#222222", "strokeWidth": 0.8},
             "encoding": {"x": {"field": "barLeft", "type": "quantitative"}, "x2": {"field": "barRight"}, "y": {"field": "level", "type": "quantitative"}}},
            {"mark": {"type": "text", "baseline": "bottom", "dy": -1.5, "fontSize": 9, "color": "#222222"},
             "encoding": {"x": {"field": "mid", "type": "quantitative"}, "y": {"field": "level", "type": "quantitative"}, "text": {"field": "label"}}}
          ]
        }
      ]
    },
    {
      "layer": [
        {
          "data": {"name": "violin"},
          "transform": [
            {"filter": "datum.panel === 'Reflux'"},
            {"calculate": "indexof(['0W','4W','8W','12W'], datum.week) + (datum.group === 'pla' ? -0.22 : 0.22)", "as": "center"},
            {"calculate": "datum.center - 0.28 * datum.density", "as": "left"},
            {"calculate": "datum.center + 0.28 * datum.density", "as": "right"}
          ],
          "mark": {"type": "area", "orient": "horizontal", "stroke": "#111111", "strokeWidth": 0.6, "opacity": 1},
          "encoding": {
            "y": {"field": "score", "type": "quantitative", "scale": {"domain": [-0.92, 4.74], "range": [299, 162], "nice": false, "zero": false}, "axis": {"orient": "left", "offset": -17, "values": [0, 1, 2, 3, 4], "format": "d", "title": "Reflux score", "titleX": -12}},
            "x": {"field": "left", "type": "quantitative", "stack": null, "scale": {"domain": [-0.56, 3.59], "range": [17, 182], "nice": false, "zero": false}, "axis": {"orient": "bottom", "offset": -11, "values": [0, 1, 2, 3], "labelExpr": "['0W','4W','8W','12W'][datum.value]", "title": null}},
            "x2": {"field": "right"},
            "color": {"field": "group", "type": "nominal"},
            "detail": {"field": "week"}
          }
        },
        {
          "data": {"name": "box"},
          "transform": [
            {"filter": "datum.panel === 'Reflux'"},
            {"calculate": "indexof(['0W','4W','8W','12W'], datum.week) + (datum.group === 'pla' ? -0.22 : 0.22)", "as": "center"},
            {"calculate": "datum.center - 0.05", "as": "boxLeft"},
            {"calculate": "datum.center + 0.05", "as": "boxRight"}
          ],
          "layer": [
            {"mark": {"type": "rule", "color": "#111111", "strokeWidth": 0.8},
             "encoding": {"x": {"field": "center", "type": "quantitative"}, "y": {"field": "lo", "type": "quantitative"}, "y2": {"field": "hi"}}},
            {"mark": {"type": "rect", "fill": "white", "stroke": "#111111", "strokeWidth": 0.7},
             "encoding": {"x": {"field": "boxLeft", "type": "quantitative"}, "x2": {"field": "boxRight"}, "y": {"field": "q1", "type": "quantitative"}, "y2": {"field": "q3"}}},
            {"mark": {"type": "rule", "color": "#111111", "strokeWidth": 1},
             "encoding": {"x": {"field": "boxLeft", "type": "quantitative"}, "x2": {"field": "boxRight"}, "y": {"field": "median", "type": "quantitative"}}}
          ]
        },
        {
          "data": {"name": "pvalue"},
          "transform": [
            {"filter": "datum.panel === 'Reflux'"},
            {"calculate": "indexof(['0W','4W','8W','12W'], datum.week)", "as": "mid"},
            {"calculate": "datum.mid - 0.27", "as": "barLeft"},
            {"calculate": "datum.mid + 0.27", "as": "barRight"}
          ],
          "layer": [
            {"mark": {"type": "rule", "color": "#222222", "strokeWidth": 0.8},
             "encoding": {"x": {"field": "barLeft", "type": "quantitative"}, "x2": {"field": "barRight"}, "y": {"field": "level", "type": "quantitative"}}},
            {"mark": {"type": "text", "baseline": "bottom", "dy": -1.5, "fontSize": 9, "color": "#222222"},
             "encoding": {"x": {"field": "mid", "type": "quantitative"}, "y": {"field": "level", "type": "quantitative"}, "text": {"field": "label"}}}
          ]
        }
      ]
    },
    {
      "layer": [
        {
          "data": {"name": "violin"},
          "transform": [
            {"filter": "datum.panel === 'GSRS'"},
            {"calculate": "indexof(['0W','4W','8W','12W'], datum.week) + (datum.group === 'pla' ? -0.22 : 0.22)", "as": "center"},
            {"calculate": "datum.center - 0.28 * datum.density", "as": "left"},
            {"calculate": "datum.center + 0.28 * datum.density", "as": "right"}
          ],
          "mark": {"type": "area", "orient": "horizontal", "stroke": "#111111", "strokeWidth": 0.6, "opacity": 1},
          "encoding": {
            "y": {"field": "score", "type": "quantitative", "scale": {"domain": [-0.434, 2.15], "range": [299, 162], "nice": false, "zero": false}, "axis": {"orient": "left", "offset": -204, "values": [0, 0.5, 1, 1.5, 2], "format": ".1f", "title": "Total GSRS score", "titleX": -19}},
            "x": {"field": "left", "type": "quantitative", "stack": null, "scale": {"domain": [-0.54, 3.53], "range": [204, 362], "nice": false, "zero": false}, "axis": {"orient": "bottom", "offset": -11, "values": [0, 1, 2, 3], "labelExpr": "['0W','4W','8W','12W'][datum.value]", "title": null}},
            "x2": {"field": "right"},
            "color": {"field": "group", "type": "nominal"},
            "detail": {"field": "week"}
          }
        },
        {
          "data": {"name": "box"},
          "transform": [
            {"filter": "datum.panel === 'GSRS'"},
            {"calculate": "indexof(['0W','4W','8W','12W'], datum.week) + (datum.group === 'pla' ? -0.22 : 0.22)", "as": "center"},
            {"calculate": "datum.center - 0.05", "as": "boxLeft"},
            {"calculate": "datum.center + 0.05", "as": "boxRight"}
          ],
          "layer": [
            {"mark": {"type": "rule", "color": "#111111", "strokeWidth": 0.8},
             "encoding": {"x": {"field": "center", "type": "quantitative"}, "y": {"field": "lo", "type": "quantitative"}, "y2": {"field": "hi"}}},
            {"mark": {"type": "rect", "fill": "white", "stroke": "#111111", "strokeWidth": 0.7},
             "encoding": {"x": {"field": "boxLeft", "type": "quantitative"}, "x2": {"field": "boxRight"}, "y": {"field": "q1", "type": "quantitative"}, "y2": {"field": "q3"}}},
            {"mark": {"type": "rule", "color": "#111111", "strokeWidth": 1},
             "encoding": {"x": {"field": "boxLeft", "type": "quantitative"}, "x2": {"field": "boxRight"}, "y": {"field": "median", "type": "quantitative"}}}
          ]
        }
      ]
    },
    {
      "layer": [
        {
          "data": {"name": "violin"},
          "transform": [
            {"filter": "datum.panel === 'Abdominal'"},
            {"calculate": "indexof(['0W','4W','8W','12W'], datum.week) + (datum.group === 'pla' ? -0.22 : 0.22)", "as": "center"},
            {"calculate": "datum.center - 0.28 * datum.density", "as": "left"},
            {"calculate": "datum.center + 0.28 * datum.density", "as": "right"}
          ],
          "mark": {"type": "area", "orient": "horizontal", "stroke": "#111111", "strokeWidth": 0.6, "opacity": 1},
          "encoding": {
            "y": {"field": "score", "type": "quantitative", "scale": {"domain": [-0.776, 3.12], "range": [299, 162], "nice": false, "zero": false}, "axis": {"orient": "left", "offset": -384, "values": [0, 1, 2, 3], "format": "d", "title": "Abdominal pain score", "titleX": -12}},
            "x": {"field": "left", "type": "quantitative", "stack": null, "scale": {"domain": [-0.49, 3.58], "range": [384, 550], "nice": false, "zero": false}, "axis": {"orient": "bottom", "offset": -11, "values": [0, 1, 2, 3], "labelExpr": "['0W','4W','8W','12W'][datum.value]", "title": null}},
            "x2": {"field": "right"},
            "color": {"field": "group", "type": "nominal"},
            "detail": {"field": "week"}
          }
        },
        {
          "data": {"name": "box"},
          "transform": [
            {"filter": "datum.panel === 'Abdominal'"},
            {"calculate": "indexof(['0W','4W','8W','12W'], datum.week) + (datum.group === 'pla' ? -0.22 : 0.22)", "as": "center"},
            {"calculate": "datum.center - 0.05", "as": "boxLeft"},
            {"calculate": "datum.center + 0.05", "as": "boxRight"}
          ],
          "layer": [
            {"mark": {"type": "rule", "color": "#111111", "strokeWidth": 0.8},
             "encoding": {"x": {"field": "center", "type": "quantitative"}, "y": {"field": "lo", "type": "quantitative"}, "y2": {"field": "hi"}}},
            {"mark": {"type": "rect", "fill": "white", "stroke": "#111111", "strokeWidth": 0.7},
             "encoding": {"x": {"field": "boxLeft", "type": "quantitative"}, "x2": {"field": "boxRight"}, "y": {"field": "q1", "type": "quantitative"}, "y2": {"field": "q3"}}},
            {"mark": {"type": "rule", "color": "#111111", "strokeWidth": 1},
             "encoding": {"x": {"field": "boxLeft", "type": "quantitative"}, "x2": {"field": "boxRight"}, "y": {"field": "median", "type": "quantitative"}}}
          ]
        }
      ]
    },
    {
      "layer": [
        {
          "data": {"name": "violin"},
          "transform": [
            {"filter": "datum.panel === 'Indigestion'"},
            {"calculate": "indexof(['0W','4W','8W','12W'], datum.week) + (datum.group === 'pla' ? -0.22 : 0.22)", "as": "center"},
            {"calculate": "datum.center - 0.28 * datum.density", "as": "left"},
            {"calculate": "datum.center + 0.28 * datum.density", "as": "right"}
          ],
          "mark": {"type": "area", "orient": "horizontal", "stroke": "#111111", "strokeWidth": 0.6, "opacity": 1},
          "encoding": {
            "y": {"field": "score", "type": "quantitative", "scale": {"domain": [-0.94, 3.7], "range": [299, 162], "nice": false, "zero": false}, "axis": {"orient": "left", "offset": -571, "values": [0, 1, 2, 3], "format": "d", "title": "Indigestion score", "titleX": -14}},
            "x": {"field": "left", "type": "quantitative", "stack": null, "scale": {"domain": [-0.57, 3.55], "range": [571, 735], "nice": false, "zero": false}, "axis": {"orient": "bottom", "offset": -11, "values": [0, 1, 2, 3], "labelExpr": "['0W','4W','8W','12W'][datum.value]", "title": null}},
            "x2": {"field": "right"},
            "color": {"field": "group", "type": "nominal"},
            "detail": {"field": "week"}
          }
        },
        {
          "data": {"name": "box"},
          "transform": [
            {"filter": "datum.panel === 'Indigestion'"},
            {"calculate": "indexof(['0W','4W','8W','12W'], datum.week) + (datum.group === 'pla' ? -0.22 : 0.22)", "as": "center"},
            {"calculate": "datum.center - 0.05", "as": "boxLeft"},
            {"calculate": "datum.center + 0.05", "as": "boxRight"}
          ],
          "layer": [
            {"mark": {"type": "rule", "color": "#111111", "strokeWidth": 0.8},
             "encoding": {"x": {"field": "center", "type": "quantitative"}, "y": {"field": "lo", "type": "quantitative"}, "y2": {"field": "hi"}}},
            {"mark": {"type": "rect", "fill": "white", "stroke": "#111111", "strokeWidth": 0.7},
             "encoding": {"x": {"field": "boxLeft", "type": "quantitative"}, "x2": {"field": "boxRight"}, "y": {"field": "q1", "type": "quantitative"}, "y2": {"field": "q3"}}},
            {"mark": {"type": "rule", "color": "#111111", "strokeWidth": 1},
             "encoding": {"x": {"field": "boxLeft", "type": "quantitative"}, "x2": {"field": "boxRight"}, "y": {"field": "median", "type": "quantitative"}}}
          ]
        }
      ]
    }
  ]
}
